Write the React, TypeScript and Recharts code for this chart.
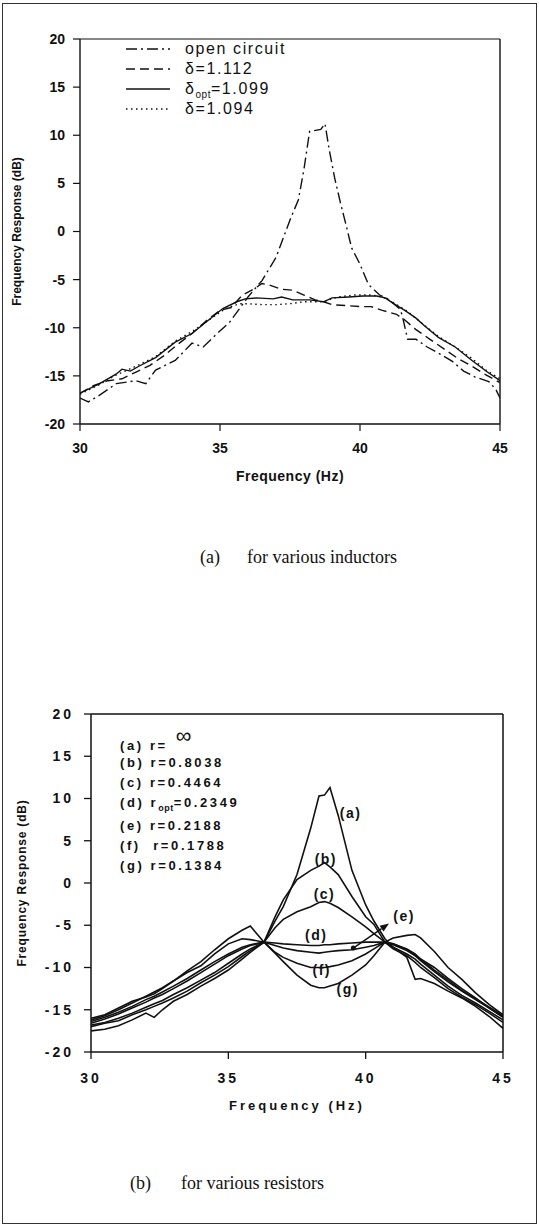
import React from 'react';
import { LineChart, Line, XAxis, YAxis, ReferenceLine, ReferenceDot, Legend, Label } from 'recharts';

const FONT = '"Liberation Sans", Arial, sans-serif';
const SERIF = '"Liberation Serif", "Times New Roman", serif';
const INK = '#111';

// ---------- (a) for various inductors ----------
const openFreq = [30, 30.3, 30.7, 31.3, 32, 32.35, 32.7, 33.4, 34, 34.4, 34.9, 35.35, 35.7, 36, 36.5, 37, 37.5, 37.8, 38, 38.2, 38.6, 38.75, 38.9, 39.1, 39.3, 39.5, 39.7, 40, 40.3, 40.7, 41, 41.4, 41.5, 41.7, 42, 42.4, 42.9, 43.3, 43.7, 44.1, 44.6, 44.85, 45];
const openDb = [-17.3, -17.7, -17.0, -15.8, -15.5, -15.8, -14.4, -13.4, -11.6, -12.0, -10.6, -9.4, -8.0, -6.8, -5.1, -2.7, 1.2, 3.3, 6.5, 10.4, 10.6, 11.2, 8.5, 5.5, 3.0, 0.7, -1.7, -3.4, -5.5, -6.6, -7.0, -8.0, -8.6, -11.2, -11.2, -12.0, -12.8, -13.5, -14.5, -15.1, -15.6, -16.4, -17.3];

const d1112Freq = [30, 30.5, 31, 31.5, 32, 32.5, 33, 33.5, 34, 34.5, 35, 35.4, 35.8, 36.2, 36.5, 36.8, 37.2, 37.6, 38, 38.4, 38.7, 39, 39.5, 40, 40.4, 40.8, 41.3, 41.6, 42, 42.5, 43, 43.5, 44, 44.5, 45];
const d1112Db = [-16.8, -16.0, -15.5, -15.3, -14.6, -13.9, -12.9, -11.7, -10.6, -9.3, -8.2, -7.9, -6.6, -6.0, -5.4, -5.6, -6.0, -6.1, -6.6, -7.1, -7.3, -7.6, -7.7, -7.8, -7.8, -8.2, -8.6, -9.2, -10.2, -11.2, -12.2, -13.2, -14.0, -14.9, -15.7];

const doptFreq = [30, 30.7, 31.3, 31.5, 31.8, 32.1, 32.7, 33.4, 34, 34.55, 35.1, 35.6, 35.9, 36.3, 36.9, 37.2, 37.6, 38.2, 38.7, 39, 39.6, 40.1, 40.6, 40.9, 41.2, 41.6, 42, 42.3, 42.8, 43.4, 44, 44.55, 45];
const doptDb = [-16.8, -15.8, -14.8, -14.3, -14.5, -14.0, -13.1, -11.5, -10.6, -9.3, -8.0, -7.3, -7.0, -6.9, -7.0, -6.8, -7.1, -7.1, -7.3, -6.9, -6.8, -6.7, -6.7, -6.9, -7.5, -8.2, -9.0, -9.8, -11.0, -12.0, -13.4, -14.6, -15.5];

const d1094Freq = [30, 30.7, 31.3, 32, 32.7, 33.4, 34, 34.6, 35.2, 35.7, 36, 36.5, 37, 37.5, 38, 38.7, 39.2, 39.8, 40.4, 40.8, 41.2, 41.7, 42.2, 42.8, 43.4, 44, 44.5, 45];
const d1094Db = [-16.9, -15.9, -14.9, -14.0, -13.0, -11.4, -10.4, -9.2, -8.0, -7.5, -7.5, -7.6, -7.6, -7.5, -7.3, -7.3, -6.8, -6.6, -6.6, -6.8, -7.4, -8.3, -9.5, -10.9, -12.0, -13.2, -14.4, -15.3];

const inductorNames = ['open circuit', 'δ=1.112', 'δopt=1.099', 'δ=1.094'];
const inductorDash = ['11 4 2 4', '9 5', '', '1.5 3.5'];
const inductorFreqs = [openFreq, d1112Freq, doptFreq, d1094Freq];
const inductorValues = [openDb, d1112Db, doptDb, d1094Db];

// ---------- (b) for various resistors ----------
const resFreq = [30, 30.5, 31, 31.5, 32, 32.3, 32.6, 33, 33.5, 34, 34.5, 35, 35.5, 35.8, 36.3, 36.7, 37, 37.5, 38, 38.3, 38.5, 38.7, 39, 39.5, 40, 40.3, 40.7, 41, 41.5, 41.8, 42, 42.5, 43, 43.5, 44, 44.5, 45];
const resA = [-17.5, -17.3, -16.9, -16.2, -15.4, -15.9, -15.0, -14.0, -13.2, -12.2, -11.3, -10.3, -9.0, -8.2, -7.0, -4.5, -2.8, 1.0, 6.5, 10.3, 10.4, 11.3, 8.0, 1.5, -2.6, -4.5, -6.6, -7.6, -8.8, -11.4, -11.3, -11.9, -12.8, -13.6, -14.6, -15.8, -17.2];
const resB = [-17.0, -16.6, -16.3, -15.6, -15.0, -14.6, -14.2, -13.6, -12.8, -11.8, -10.9, -9.9, -8.7, -8.0, -7.0, -4.0, -2.0, 0.4, 1.5, 2.0, 2.4, 1.9, 1.0, -1.6, -4.0, -4.9, -7.0, -7.8, -8.6, -9.4, -10.0, -11.2, -12.5, -13.5, -14.4, -15.4, -16.5];
const resC = [-16.8, -16.5, -16.0, -15.4, -14.7, -14.3, -13.9, -13.2, -12.4, -11.5, -10.6, -9.5, -8.4, -7.8, -7.0, -5.3, -4.3, -3.4, -2.8, -2.3, -2.2, -2.4, -2.9, -4.0, -5.2, -6.0, -7.0, -7.6, -8.4, -9.0, -9.6, -10.9, -12.2, -13.3, -14.2, -15.2, -16.2];
const resD = [-16.6, -16.1, -15.5, -14.8, -14.1, -13.6, -13.2, -12.5, -11.6, -10.6, -9.6, -8.6, -7.8, -7.4, -7.0, -7.1, -7.2, -7.3, -7.4, -7.4, -7.3, -7.3, -7.2, -7.1, -7.0, -7.0, -7.0, -7.3, -8.0, -8.6, -9.2, -10.5, -11.7, -12.8, -13.8, -14.8, -15.8];
const resE = [-16.4, -15.9, -15.3, -14.6, -13.8, -13.4, -12.9, -12.2, -11.3, -10.3, -9.3, -8.4, -7.6, -7.3, -7.0, -7.4, -7.7, -8.0, -8.2, -8.3, -8.2, -8.1, -8.0, -7.9, -7.6, -7.4, -7.0, -7.2, -7.8, -8.4, -9.0, -10.3, -11.5, -12.7, -13.7, -14.7, -15.7];
const resF = [-16.2, -15.7, -15.0, -14.2, -13.4, -12.9, -12.4, -11.6, -10.6, -9.8, -8.4, -7.2, -6.6, -6.7, -7.0, -8.2, -8.8, -9.5, -10.0, -10.0, -10.0, -9.9, -9.7, -9.2, -8.4, -7.8, -7.0, -7.2, -7.9, -8.6, -9.0, -10.0, -11.3, -12.5, -13.6, -14.8, -15.9];
const resG = [-16.0, -15.6, -14.8, -14.0, -13.5, -13.1, -12.5, -11.6, -10.4, -9.3, -7.9, -6.6, -5.6, -5.1, -7.0, -8.3, -9.3, -10.9, -12.1, -12.4, -12.4, -12.2, -11.9, -10.9, -9.7, -8.6, -7.0, -6.5, -6.2, -6.1, -6.5, -8.1, -10.0, -11.4, -13.0, -14.4, -15.6];

const resistorNames = ['(a) r=∞', '(b) r=0.8038', '(c) r=0.4464', '(d) ropt=0.2349', '(e) r=0.2188', '(f)  r=0.1788', '(g) r=0.1384'];
const resistorValues = [resA, resB, resC, resD, resE, resF, resG];

// curve tags drawn inside the plot
const tagText = ['(a)', '(b)', '(c)', '(d)', '(e)', '(f)', '(g)'];
const tagFreq = [39.45, 38.55, 38.5, 38.2, 41.4, 38.4, 39.35];
const tagDb = [8.3, 2.8, -1.3, -6.2, -3.9, -10.3, -12.5];
const arrowFrom = { x: 39.55, y: -7.7 };
const arrowTo = { x: 40.85, y: -4.8 };

const xTicks = [30, 35, 40, 45];
const yTicks = [-20, -15, -10, -5, 0, 5, 10, 15, 20];

const toPoints = (f: number[], v: number[]) => f.map((x, i) => ({ f: x, db: v[i] }));
const resistorTable = resFreq.map((f, i) => {
  const row: any = { f };
  resistorValues.forEach((vals, k) => { row['r' + k] = vals[i]; });
  return row;
});

const withSub = (name: string, subSize: number) => {
  const m = name.match(/^(.*?)opt(=.*)$/);
  if (!m) return name;
  return (
    <>
      {m[1]}
      <span style={{ fontSize: subSize, position: 'relative', top: 4, letterSpacing: 0.5 }}>opt</span>
      {m[2]}
    </>
  );
};

// legends keep the order of the name arrays (Recharts sorts its payload)
const InductorLegend = () => (
  <div style={{ fontFamily: FONT, fontSize: 16, letterSpacing: 1.6, color: INK }}>
    {inductorNames.map((name, idx) => (
      <div key={name} style={{ display: 'flex', alignItems: 'center', height: 20 }}>
        <svg width={44} height={10} style={{ marginRight: 15 }}>
          <line x1={0} y1={5} x2={44} y2={5} stroke={INK} strokeWidth={1.4} strokeDasharray={inductorDash[idx] || undefined} />
        </svg>
        <span style={{ whiteSpace: 'pre' }}>{withSub(name, 10)}</span>
      </div>
    ))}
  </div>
);

const resistorLabel = (name: string) => {
  if (name.includes('∞')) {
    const [head] = name.split('∞');
    return (
      <>
        {head}
        <span style={{ fontSize: 22, fontWeight: 400, position: 'relative', top: -7, marginLeft: 8, letterSpacing: 0 }}>∞</span>
      </>
    );
  }
  return withSub(name, 9);
};

const ResistorLegend = () => (
  <div style={{ fontFamily: FONT, fontWeight: 700, fontSize: 13, letterSpacing: 2.6, color: INK }}>
    {resistorNames.map((name) => (
      <div key={name} style={{ height: 20, lineHeight: '20px', whiteSpace: 'pre', marginBottom: name.startsWith('(d)') ? 3 : 0 }}>
        {resistorLabel(name)}
      </div>
    ))}
  </div>
);

const tickStyle = { fill: INK, fontSize: 14, fontWeight: 700, fontFamily: FONT };
const wideTick = { ...tickStyle, letterSpacing: 3 };

export default function App() {
  return (
    <div style={{ position: 'absolute', left: 0, top: 0, width: 539, height: 1225, background: '#fff', fontFamily: FONT }}>
      <div style={{ position: 'absolute', left: 2, top: 3, width: 533, height: 1219, border: '1.5px solid #333' }} />

      {/* (a) inductors */}
      <div style={{ position: 'absolute', left: 0, top: 0 }}>
        <LineChart width={539} height={500} margin={{ top: 39, right: 39, left: 0, bottom: 36 }}>
          <XAxis dataKey="f" type="number" domain={[30, 45]} ticks={xTicks} height={40} tickSize={7} tickMargin={12}
            tick={tickStyle} axisLine={{ stroke: INK, strokeWidth: 1.4 }} tickLine={{ stroke: INK, strokeWidth: 1.2 }} allowDataOverflow>
            <Label value="Frequency (Hz)" position="bottom" offset={7} style={{ fontSize: 14, fontWeight: 700, fill: INK, fontFamily: FONT, letterSpacing: 0.5 }} />
          </XAxis>
          <YAxis type="number" domain={[-20, 20]} ticks={yTicks} width={80} tickSize={7} tickMargin={8}
            tick={tickStyle} axisLine={{ stroke: INK, strokeWidth: 1.4 }} tickLine={{ stroke: INK, strokeWidth: 1.2 }} allowDataOverflow>
            <Label value="Frequency Response (dB)" angle={-90} position="insideLeft" offset={17}
              style={{ textAnchor: 'middle', fontSize: 12, fontWeight: 700, fill: INK, fontFamily: FONT }} />
          </YAxis>
          <ReferenceLine y={20} stroke={INK} strokeWidth={1.2} />
          <ReferenceLine x={45} stroke={INK} strokeWidth={1.4} />
          {inductorNames.map((name, i) => (
            <Line key={name} name={name} data={toPoints(inductorFreqs[i], inductorValues[i])} dataKey="db" type="linear"
              stroke={INK} strokeWidth={1.4} strokeDasharray={inductorDash[i] || undefined} dot={false} isAnimationActive={false} />
          ))}
          <Legend layout="vertical" align="center" verticalAlign="middle" content={InductorLegend}
            wrapperStyle={{ left: 126, top: 39, width: 'auto', height: 'auto' }} />
        </LineChart>
      </div>
      <div style={{ position: 'absolute', left: 200, top: 547, fontFamily: SERIF, fontSize: 18, color: INK, whiteSpace: 'pre' }}>
        (a)<span style={{ marginLeft: 27 }}>for various inductors</span>
      </div>

      {/* (b) resistors */}
      <div style={{ position: 'absolute', left: 0, top: 640 }}>
        <LineChart width={539} height={500} data={resistorTable} margin={{ top: 74, right: 36, left: 0, bottom: 48 }}>
          <XAxis dataKey="f" type="number" domain={[30, 45]} ticks={xTicks} height={40} tickSize={7} tickMargin={14}
            tick={wideTick} axisLine={{ stroke: INK, strokeWidth: 1.5 }} tickLine={{ stroke: INK, strokeWidth: 1.3 }} allowDataOverflow>
            <Label value="Frequency (Hz)" position="bottom" offset={9} style={{ fontSize: 13, fontWeight: 700, fill: INK, fontFamily: FONT, letterSpacing: 3 }} />
          </XAxis>
          <YAxis type="number" domain={[-20, 20]} ticks={yTicks} width={91} tickSize={7} tickMargin={10}
            tick={wideTick} axisLine={{ stroke: INK, strokeWidth: 1.5 }} tickLine={{ stroke: INK, strokeWidth: 1.3 }} allowDataOverflow>
            <Label value="Frequency Response (dB)" angle={-90} position="insideLeft" offset={22}
              style={{ textAnchor: 'middle', fontSize: 12, fontWeight: 700, fill: INK, fontFamily: FONT, letterSpacing: 0.8 }} />
          </YAxis>
          <ReferenceLine y={20} stroke={INK} strokeWidth={1.3} />
          <ReferenceLine x={45} stroke={INK} strokeWidth={1.5} />
          {resistorNames.map((name, k) => (
            <Line key={name} name={name} dataKey={'r' + k} type="linear" stroke={INK} strokeWidth={1.6}
              dot={false} isAnimationActive={false} />
          ))}
          {tagText.map((t, i) => (
            <ReferenceDot key={t} x={tagFreq[i]} y={tagDb[i]} r={0}
              shape={(p: any) => (
                <text x={p.cx} y={p.cy} textAnchor="middle" dominantBaseline="central" fontFamily={FONT}
                  fontSize={14} fontWeight={700} letterSpacing={1.5} fill={INK}>{t}</text>
              )} />
          ))}
          <ReferenceLine segment={[arrowFrom, arrowTo]} stroke={INK}
            shape={(p: any) => {
              const { x1, y1, x2, y2 } = p;
              const a = Math.atan2(y2 - y1, x2 - x1);
              const L = 9, W = 3.5;
              const bx = x2 - L * Math.cos(a), by = y2 - L * Math.sin(a);
              const pts = `${x2},${y2} ${bx + W * Math.sin(a)},${by - W * Math.cos(a)} ${bx - W * Math.sin(a)},${by + W * Math.cos(a)}`;
              return (
                <g>
                  <line x1={x1} y1={y1} x2={bx} y2={by} stroke={INK} strokeWidth={1.5} />
                  <polygon points={pts} fill={INK} />
                  <circle cx={x1} cy={y1} r={2.5} fill={INK} />
                </g>
              );
            }} />
          <Legend layout="vertical" align="center" verticalAlign="middle" content={ResistorLegend}
            wrapperStyle={{ left: 120, top: 93, width: 'auto', height: 'auto' }} />
        </LineChart>
      </div>
      <div style={{ position: 'absolute', left: 130, top: 1173, fontFamily: SERIF, fontSize: 18, color: INK, whiteSpace: 'pre' }}>
        (b)<span style={{ marginLeft: 30 }}>for various resistors</span>
      </div>
    </div>
  );
}
